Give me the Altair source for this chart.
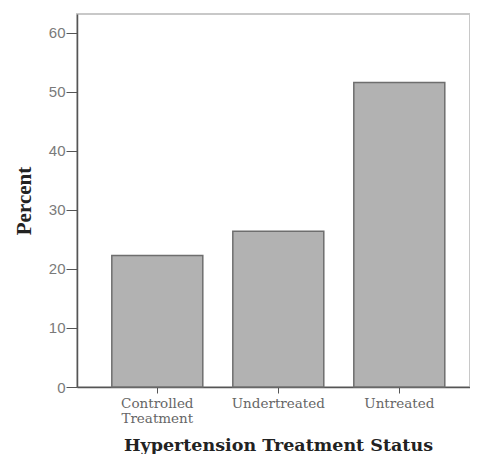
import altair as alt
import pandas as pd

categories = ["Controlled Treatment", "Undertreated", "Untreated"]
percent = [22.3, 26.4, 51.6]
y_ticks = [0, 10, 20, 30, 40, 50, 60]

df = pd.DataFrame({"status": categories, "percent": percent})

chart = alt.Chart(df).mark_bar(
    color="#b2b2b2", stroke="#6e6e6e", strokeWidth=1.5
).encode(
    x=alt.X(
        "status:N",
        sort=categories,
        scale=alt.Scale(paddingInner=0.248, paddingOuter=0.248, align=0.58),
        axis=alt.Axis(
            title="Hypertension Treatment Status",
            labelAngle=0,
            labelExpr="indexof(datum.label, 'Controlled') >= 0 ? split(datum.label, ' ') : datum.label",
            labelFont="DejaVu Serif",
            labelFontSize=13.5,
            labelColor="#666666",
            labelPadding=3,
            labelLineHeight=15,
            tickSize=6,
            tickColor="#555555",
            domainColor="#555555",
            domainWidth=1.5,
            titleFont="DejaVu Serif",
            titleFontSize=17.5,
            titleFontWeight="bold",
            titleColor="#222222",
            titleBaseline="alphabetic",
            titleY=63,
            titleX=201,
        ),
    ),
    y=alt.Y(
        "percent:Q",
        scale=alt.Scale(domain=[0, 63.2], nice=False),
        axis=alt.Axis(
            title="Percent",
            values=y_ticks,
            grid=False,
            labelFont="Liberation Sans",
            labelFontSize=15,
            labelColor="#7a7a7a",
            labelPadding=1,
            tickSize=11,
            tickColor="#555555",
            domainColor="#555555",
            domainWidth=1.5,
            titleFont="Liberation Serif",
            titleFontSize=21,
            titleFontWeight="bold",
            titleColor="#222222",
            titleBaseline="middle",
            titleX=-53,
        ),
    ),
).properties(
    width=393,
    height=373,
    autosize=alt.AutoSizeParams(type="none"),
    padding={"left": 69, "top": 6, "right": 0, "bottom": 67},
).configure_view(
    stroke="#c8c8c8", strokeWidth=2
)

chart.save("out.html", embed_options={"renderer": "svg", "actions": False})
